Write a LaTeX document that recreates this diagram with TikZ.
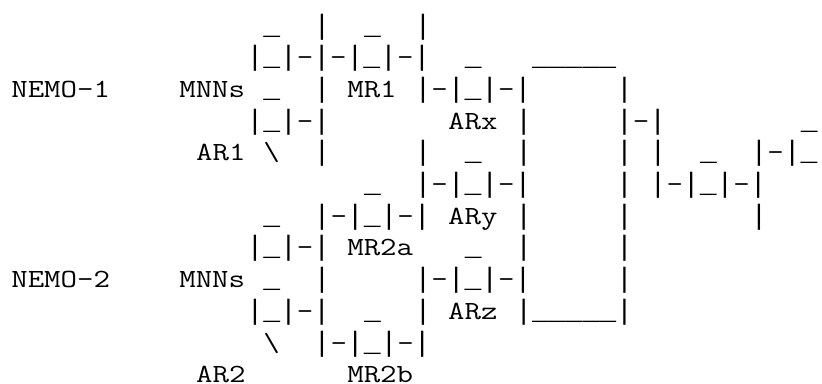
\documentclass[tikz,border=0pt]{standalone}
\usepackage{fontspec}
\newfontfamily\libmono{Liberation Mono}
% Courier-like cell: 16.8pt wide; letters in Latin Modern Mono stretched to the cell,
% bars and underscores taken from Liberation Mono (full-cell underscore, tall bar)
\newcommand\vb{\scalebox{0.8197}[1]{\libmono\fontsize{28}{31.7}\selectfont|}}
\newcommand\us{\scalebox{0.8197}[1]{\libmono\fontsize{28}{31.7}\selectfont\_}}
\tikzset{
  asciitxt/.style={anchor=base west, inner sep=0pt, outer sep=0pt,
    font=\ttfamily\fontsize{26.2}{31.7}\selectfont, text=black}
}
% name, row, column, text
\newcommand\asc[4]{\node[asciitxt] (#1) at ({11.3+#3*16.8},{-(34+(#2-1)*31.7)}) {\scalebox{1.22}[1]{#4}};}
\begin{document}
\begin{tikzpicture}[x=1pt,y=1pt]
\useasboundingbox (0,0) rectangle (822,-383);
% row 1
\asc{ra1}{1}{15}{\us}
\asc{ra2}{1}{18}{\vb}
\asc{ra3}{1}{21}{\us}
\asc{ra4}{1}{24}{\vb}
% row 2
\asc{rb1}{2}{14}{\vb\us\vb-\vb-\vb\us\vb-\vb}
\asc{rb2}{2}{27}{\us}
\asc{rb3}{2}{31}{\us\us\us\us\us}
% row 3
\asc{nemoone}{3}{0}{NEMO-1}
\asc{mnnsone}{3}{10}{MNNs}
\asc{rc1}{3}{15}{\us}
\asc{rc2}{3}{18}{\vb}
\asc{mrone}{3}{20}{MR1}
\asc{rc3}{3}{24}{\vb-\vb\us\vb-\vb}
\asc{rc4}{3}{36}{\vb}
% row 4
\asc{rd1}{4}{14}{\vb\us\vb-\vb}
\asc{arx}{4}{26}{ARx}
\asc{rd2}{4}{30}{\vb}
\asc{rd3}{4}{36}{\vb-\vb}
\asc{rd4}{4}{47}{\us}
% row 5
\asc{arone}{5}{11}{AR1}
\asc{re1}{5}{15}{\textbackslash}
\asc{re2}{5}{18}{\vb}
\asc{re3}{5}{24}{\vb}
\asc{re4}{5}{27}{\us}
\asc{re5}{5}{30}{\vb}
\asc{re6}{5}{36}{\vb}
\asc{re7}{5}{38}{\vb}
\asc{re8}{5}{41}{\us}
\asc{re9}{5}{44}{\vb-\vb\us}
% row 6
\asc{rf1}{6}{21}{\us}
\asc{rf2}{6}{24}{\vb-\vb\us\vb-\vb}
\asc{rf3}{6}{36}{\vb}
\asc{rf4}{6}{38}{\vb-\vb\us\vb-\vb}
% row 7
\asc{rg1}{7}{15}{\us}
\asc{rg2}{7}{18}{\vb-\vb\us\vb-\vb}
\asc{ary}{7}{26}{ARy}
\asc{rg3}{7}{30}{\vb}
\asc{rg4}{7}{36}{\vb}
\asc{rg5}{7}{44}{\vb}
% row 8
\asc{rh1}{8}{14}{\vb\us\vb-\vb}
\asc{mrtwoa}{8}{20}{MR2a}
\asc{rh2}{8}{27}{\us}
\asc{rh3}{8}{30}{\vb}
\asc{rh4}{8}{36}{\vb}
% row 9
\asc{nemotwo}{9}{0}{NEMO-2}
\asc{mnnstwo}{9}{10}{MNNs}
\asc{ri1}{9}{15}{\us}
\asc{ri2}{9}{18}{\vb}
\asc{ri3}{9}{24}{\vb-\vb\us\vb-\vb}
\asc{ri4}{9}{36}{\vb}
% row 10
\asc{rj1}{10}{14}{\vb\us\vb-\vb}
\asc{rj2}{10}{21}{\us}
\asc{rj3}{10}{24}{\vb}
\asc{arz}{10}{26}{ARz}
\asc{rj4}{10}{30}{\vb\us\us\us\us\us\vb}
% row 11
\asc{rk1}{11}{15}{\textbackslash}
\asc{rk2}{11}{18}{\vb-\vb\us\vb-\vb}
% row 12
\asc{artwo}{12}{11}{AR2}
\asc{mrtwob}{12}{20}{MR2b}
\end{tikzpicture}
\end{document}
